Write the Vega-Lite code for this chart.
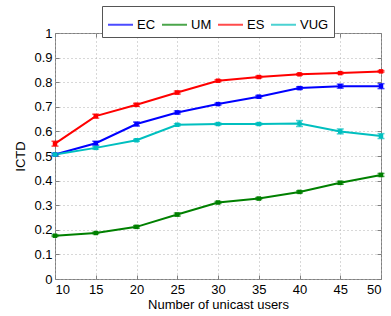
{
  "$schema": "https://vega.github.io/schema/vega-lite/v6.json",
  "width": 326,
  "height": 246,
  "autosize": "none",
  "padding": {"left": 55, "top": 33, "right": 10, "bottom": 37},
  "background": "white",
  "config": {
    "font": "Liberation Sans",
    "view": {"stroke": "#808080", "strokeWidth": 1},
    "axis": {
      "domain": false,
      "labelFont": "Liberation Sans",
      "labelFontSize": 13,
      "labelColor": "black",
      "titleFont": "Liberation Sans",
      "titleFontSize": 13,
      "titleFontWeight": "normal",
      "titleColor": "black",
      "tickColor": "#808080",
      "tickSize": -4,
      "gridColor": "#b0b0b0",
      "gridDash": [1, 3],
      "gridWidth": 1
    }
  },
  "data": {
    "values": [
      {"x": 10, "series": "EC", "v": 0.506, "e": 0.004},
      {"x": 15, "series": "EC", "v": 0.552, "e": 0.008},
      {"x": 20, "series": "EC", "v": 0.630, "e": 0.008},
      {"x": 25, "series": "EC", "v": 0.677, "e": 0.006},
      {"x": 30, "series": "EC", "v": 0.711, "e": 0.004},
      {"x": 35, "series": "EC", "v": 0.741, "e": 0.005},
      {"x": 40, "series": "EC", "v": 0.776, "e": 0.005},
      {"x": 45, "series": "EC", "v": 0.784, "e": 0.008},
      {"x": 50, "series": "EC", "v": 0.784, "e": 0.010},
      {"x": 10, "series": "UM", "v": 0.176, "e": 0.003},
      {"x": 15, "series": "UM", "v": 0.187, "e": 0.003},
      {"x": 20, "series": "UM", "v": 0.212, "e": 0.005},
      {"x": 25, "series": "UM", "v": 0.262, "e": 0.006},
      {"x": 30, "series": "UM", "v": 0.311, "e": 0.004},
      {"x": 35, "series": "UM", "v": 0.327, "e": 0.004},
      {"x": 40, "series": "UM", "v": 0.354, "e": 0.004},
      {"x": 45, "series": "UM", "v": 0.391, "e": 0.006},
      {"x": 50, "series": "UM", "v": 0.423, "e": 0.006},
      {"x": 10, "series": "ES", "v": 0.550, "e": 0.010},
      {"x": 15, "series": "ES", "v": 0.662, "e": 0.008},
      {"x": 20, "series": "ES", "v": 0.708, "e": 0.006},
      {"x": 25, "series": "ES", "v": 0.758, "e": 0.006},
      {"x": 30, "series": "ES", "v": 0.806, "e": 0.004},
      {"x": 35, "series": "ES", "v": 0.821, "e": 0.004},
      {"x": 40, "series": "ES", "v": 0.832, "e": 0.003},
      {"x": 45, "series": "ES", "v": 0.837, "e": 0.003},
      {"x": 50, "series": "ES", "v": 0.844, "e": 0.003},
      {"x": 10, "series": "VUG", "v": 0.506, "e": 0.004},
      {"x": 15, "series": "VUG", "v": 0.533, "e": 0.005},
      {"x": 20, "series": "VUG", "v": 0.564, "e": 0.004},
      {"x": 25, "series": "VUG", "v": 0.627, "e": 0.004},
      {"x": 30, "series": "VUG", "v": 0.630, "e": 0.004},
      {"x": 35, "series": "VUG", "v": 0.630, "e": 0.004},
      {"x": 40, "series": "VUG", "v": 0.632, "e": 0.012},
      {"x": 45, "series": "VUG", "v": 0.600, "e": 0.010},
      {"x": 50, "series": "VUG", "v": 0.581, "e": 0.010}
    ]
  },
  "layer": [
    {
      "mark": {"type": "line", "strokeWidth": 2},
      "encoding": {
        "x": {
          "field": "x", "type": "quantitative",
          "scale": {"domain": [10, 50], "nice": false, "zero": false},
          "axis": {"orient": "bottom", "values": [10, 15, 20, 25, 30, 35, 40, 45, 50], "title": "Number of unicast users", "labelPadding": 8, "titlePadding": 2, "grid": true}
        },
        "y": {
          "field": "v", "type": "quantitative",
          "scale": {"domain": [0, 1], "nice": false},
          "axis": {"orient": "left", "values": [0, 0.1, 0.2, 0.3, 0.4, 0.5, 0.6, 0.7, 0.8, 0.9, 1], "format": "~g", "title": "ICTD", "labelPadding": 7, "titlePadding": 6, "grid": true}
        },
        "color": {
          "field": "series", "type": "nominal",
          "scale": {"domain": ["EC", "UM", "ES", "VUG"], "range": ["#0000ff", "#008000", "#ff0000", "#00bfbf"]},
          "legend": {
            "orient": "none", "legendX": 47, "legendY": -27, "direction": "horizontal",
            "title": null, "symbolType": "stroke", "symbolSize": 625, "symbolStrokeWidth": 2,
            "labelFontSize": 13, "labelFont": "Liberation Sans", "labelColor": "black", "labelOffset": 3,
            "columnPadding": 2, "padding": 5, "fillColor": "white", "strokeColor": "#555555"
          }
        }
      }
    },
    {
      "mark": {"type": "errorbar", "ticks": true, "size": 7, "thickness": 1.5},
      "encoding": {
        "x": {"field": "x", "type": "quantitative", "axis": null},
        "y": {"field": "v", "type": "quantitative", "axis": null},
        "yError": {"field": "e"},
        "color": {"field": "series", "type": "nominal"}
      }
    },
    {
      "mark": {"type": "point", "shape": "square", "filled": true, "size": 20, "opacity": 1},
      "encoding": {
        "x": {"field": "x", "type": "quantitative", "axis": {"orient": "top", "values": [10, 15, 20, 25, 30, 35, 40, 45, 50], "labels": false, "title": null, "grid": false}},
        "y": {"field": "v", "type": "quantitative", "axis": {"orient": "right", "values": [0, 0.1, 0.2, 0.3, 0.4, 0.5, 0.6, 0.7, 0.8, 0.9, 1], "labels": false, "title": null, "grid": false}},
        "color": {"field": "series", "type": "nominal"}
      }
    }
  ],
  "resolve": {"axis": {"x": "independent", "y": "independent"}}
}
